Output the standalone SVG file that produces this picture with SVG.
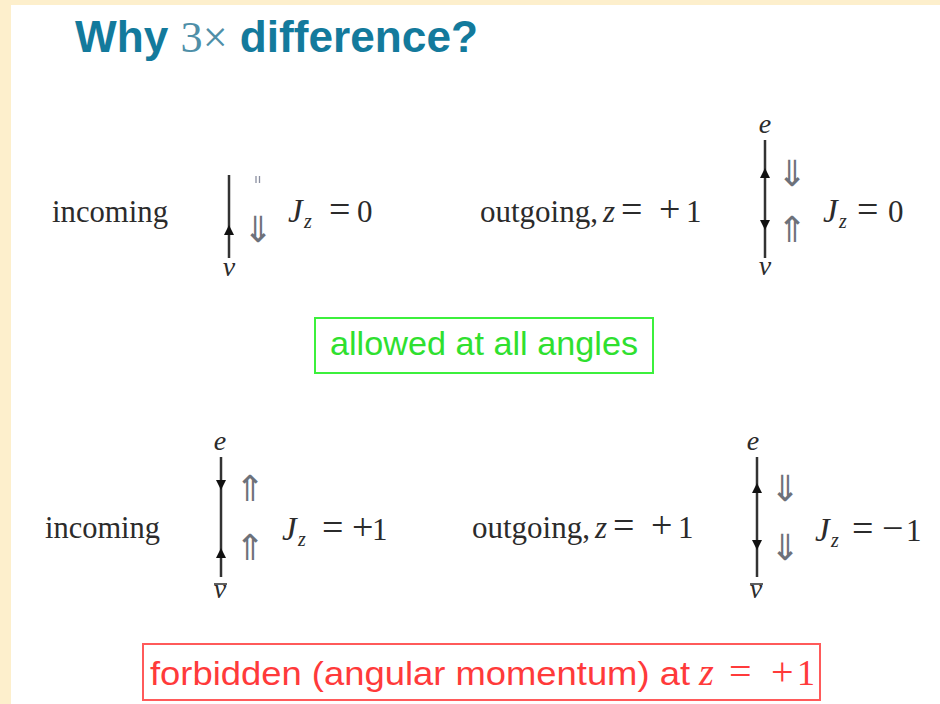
<svg xmlns="http://www.w3.org/2000/svg" width="940" height="704" viewBox="0 0 940 704">
<style>
.t{font-family:"Liberation Serif",serif;fill:#2b2b2b;font-size:31px}
.i{font-style:italic}
.J{font-style:italic;font-size:33px}
.sub{font-size:20px;font-style:italic}
.op{font-size:38px}
.lab{font-family:"Liberation Serif",serif;font-style:italic;fill:#2b2b2b;font-size:28px;text-anchor:middle}
.bar{stroke:#2b2b2b;stroke-width:1.5}
.ar{font-family:"DejaVu Sans",sans-serif;fill:#6d717a;font-size:36px;text-anchor:middle}
.ln{stroke:#333;stroke-width:2.5;fill:none}
.sans{font-family:"Liberation Sans",sans-serif;font-size:34px}
</style>
<defs>
<marker id="ah" viewBox="0 0 10 10" refX="10" refY="5" markerWidth="10" markerHeight="10" markerUnits="userSpaceOnUse" orient="auto">
<path d="M0,0 L10,5 L0,10 Z" fill="#111"/>
</marker>
</defs>
<rect x="0" y="0" width="940" height="704" fill="#ffffff"/>
<rect x="0" y="0" width="11" height="704" fill="#fdefcc"/>
<rect x="0" y="0" width="940" height="5" fill="#fdefcc"/>

<g id="title">
<text x="75" y="52" font-family="Liberation Sans, sans-serif" font-weight="bold" font-size="44" fill="#137a9c" textLength="403" lengthAdjust="spacingAndGlyphs">Why <tspan font-family="Liberation Serif, serif" font-weight="normal" fill="#4f8fa8">3×</tspan> difference?</text>
</g>

<g id="connectors">
<path class="ln" d="M229,258 L229,225 L229,175" marker-mid="url(#ah)"/>
<path class="ln" d="M765,200 L765,168 L765,140" marker-mid="url(#ah)"/>
<path class="ln" d="M765,200 L765,230 L765,258" marker-mid="url(#ah)"/>
<path class="ln" d="M221,457 L221,490 L221,520" marker-mid="url(#ah)"/>
<path class="ln" d="M221,577 L221,548 L221,520" marker-mid="url(#ah)"/>
<path class="ln" d="M757,520 L757,483 L757,457" marker-mid="url(#ah)"/>
<path class="ln" d="M757,520 L757,550 L757,577" marker-mid="url(#ah)"/>
</g>

<g id="row1-incoming">
<text class="t" x="52" y="222" textLength="116" lengthAdjust="spacingAndGlyphs">incoming</text>
<line x1="256" y1="176" x2="256" y2="183" stroke="#8a8fa0" stroke-width="1.3"/>
<line x1="259.5" y1="176" x2="259.5" y2="183" stroke="#8a8fa0" stroke-width="1.3"/>
<text class="ar" x="258" y="242">⇓</text>
<text class="t" y="222"><tspan class="J" x="288">J</tspan><tspan class="sub" x="304" y="228">z</tspan><tspan class="op" x="329" y="222">=</tspan><tspan x="357">0</tspan></text>
<text class="lab" x="229" y="276">ν</text>
</g>

<g id="row1-outgoing">
<text class="t" y="222"><tspan x="480">outgoing,</tspan><tspan class="i" x="603">z</tspan><tspan class="op" x="621">=</tspan><tspan class="op" x="659">+</tspan><tspan x="686">1</tspan></text>
<text class="lab" x="765" y="133">e</text>
<text class="ar" x="792" y="186">⇓</text>
<text class="ar" x="792" y="242">⇑</text>
<text class="t" y="222"><tspan class="J" x="823">J</tspan><tspan class="sub" x="839" y="228">z</tspan><tspan class="op" x="857" y="222">=</tspan><tspan x="888">0</tspan></text>
<text class="lab" x="765" y="275">ν</text>
</g>

<g id="allowed">
<rect x="315" y="318" width="338" height="55" fill="none" stroke="#3cf03c" stroke-width="2"/>
<text class="sans" x="330" y="355" fill="#2fe02f" font-size="33" textLength="308" lengthAdjust="spacingAndGlyphs">allowed at all angles</text>
</g>

<g id="row2-incoming">
<text class="t" x="45" y="538" textLength="115" lengthAdjust="spacingAndGlyphs">incoming</text>
<text class="lab" x="220" y="450">e</text>
<text class="ar" x="250" y="501">⇑</text>
<text class="ar" x="250" y="560">⇑</text>
<text class="t" y="540"><tspan class="J" x="282">J</tspan><tspan class="sub" x="298" y="546">z</tspan><tspan class="op" x="322" y="540">=</tspan><tspan class="op" x="352">+</tspan><tspan x="372">1</tspan></text>
<text class="lab" x="220" y="598">ν</text>
<line class="bar" x1="214" y1="584" x2="227" y2="584"/>
</g>

<g id="row2-outgoing">
<text class="t" y="538"><tspan x="472">outgoing,</tspan><tspan class="i" x="595">z</tspan><tspan class="op" x="613">=</tspan><tspan class="op" x="651">+</tspan><tspan x="678">1</tspan></text>
<text class="lab" x="753" y="450">e</text>
<text class="ar" x="785" y="501">⇓</text>
<text class="ar" x="785" y="560">⇓</text>
<text class="t" y="541"><tspan class="J" x="815">J</tspan><tspan class="sub" x="831" y="547">z</tspan><tspan class="op" x="852" y="541">=</tspan><tspan class="op" x="882">−</tspan><tspan x="906">1</tspan></text>
<text class="lab" x="756" y="598">ν</text>
<line class="bar" x1="750" y1="584" x2="763" y2="584"/>
</g>

<g id="forbidden">
<rect x="143" y="644" width="677" height="56" fill="none" stroke="#ff5a5a" stroke-width="2"/>
<text class="sans" y="685" fill="#ff3a3a"><tspan x="150" textLength="540" lengthAdjust="spacingAndGlyphs">forbidden (angular momentum) at</tspan><tspan x="699" font-family="Liberation Serif, serif" font-style="italic" font-size="38">z</tspan><tspan x="729" font-family="Liberation Serif, serif" font-size="40">=</tspan><tspan x="771" font-family="Liberation Serif, serif" font-size="40">+</tspan><tspan x="797" font-family="Liberation Serif, serif" font-size="36">1</tspan></text>
</g>
</svg>
